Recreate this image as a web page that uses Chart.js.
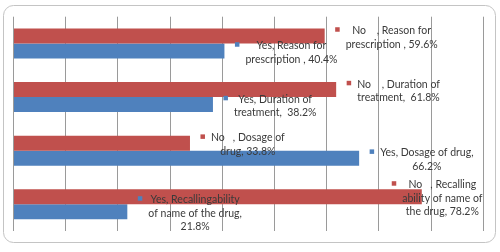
<!DOCTYPE html>
<html>
<head>
<meta charset="utf-8">
<script src="https://cdn.jsdelivr.net/npm/chart.js@4/dist/chart.umd.min.js"></script>
<style>
html,body{margin:0;padding:0;background:#fff;}
canvas{display:block;}
</style>
</head>
<body>
<canvas id="c" width="500" height="252"></canvas>
<script>
const categories = ['Reason for prescription', 'Duration of treatment', 'Dosage of drug', 'Recalling ability of name of the drug'];
const noValues = [59.6, 61.8, 33.8, 78.2];
const yesValues = [40.4, 38.2, 66.2, 21.8];
const noLabelLines = [
  ['No    , Reason for', 'prescription , 59.6%'],
  ['No    , Duration of', 'treatment,  61.8%'],
  ['No   , Dosage of', 'drug, 33.8%'],
  ['No   , Recalling', 'ability of name of', 'the drug, 78.2%']
];
const yesLabelLines = [
  ['Yes, Reason for', 'prescription , 40.4%'],
  ['Yes, Duration of', 'treatment,  38.2%'],
  ['Yes, Dosage of drug,', '66.2%'],
  ['Yes, Recallingability', 'of name of the drug,', '21.8%']
];
const xTicks = [0, 10, 20, 30, 40, 50, 60, 70, 80, 90];

const RED = '#C0504D';
const BLUE = '#4F81BD';

const frame = {
  id: 'frame',
  beforeDraw(chart) {
    const ctx = chart.ctx;
    ctx.save();
    ctx.fillStyle = '#ffffff';
    ctx.fillRect(0, 0, chart.width, chart.height);
    const x = 3.5, y = 5.5, w = 492, h = 237, r = 10;
    ctx.beginPath();
    ctx.moveTo(x + r, y);
    ctx.lineTo(x + w - r, y);
    ctx.arcTo(x + w, y, x + w, y + r, r);
    ctx.lineTo(x + w, y + h - r);
    ctx.arcTo(x + w, y + h, x + w - r, y + h, r);
    ctx.lineTo(x + r, y + h);
    ctx.arcTo(x, y + h, x, y + h - r, r);
    ctx.lineTo(x, y + r);
    ctx.arcTo(x, y, x + r, y, r);
    ctx.closePath();
    ctx.strokeStyle = '#c4c4c4';
    ctx.lineWidth = 1;
    ctx.stroke();
    ctx.restore();
  }
};

const barLabels = {
  id: 'barLabels',
  afterDatasetsDraw(chart) {
    const ctx = chart.ctx;
    const area = chart.chartArea;
    ctx.save();
    ctx.font = '10.5px Lato';
    ctx.textBaseline = 'middle';
    ctx.textAlign = 'center';
    ctx.fillStyle = '#3a3a3a';
    const lh = 13.5;
    chart.data.datasets.forEach((ds, di) => {
      const meta = chart.getDatasetMeta(di);
      meta.data.forEach((bar, i) => {
        const lines = ds.labelLines[i];
        let w = 0;
        lines.forEach(l => { w = Math.max(w, ctx.measureText(l).width); });
        let left = bar.x + 21;
        if (left + w > area.right - 1) left = area.right - 1 - w;
        const cx = left + w / 2;
        const cy = bar.y + 1.5;
        const top = cy - (lines.length * lh) / 2 + lh / 2;
        ctx.fillStyle = ds.backgroundColor;
        ctx.fillRect(left - 10.5, top - 3.5, 4.5, 4.5);
        ctx.fillStyle = '#3a3a3a';
        lines.forEach((l, k) => ctx.fillText(l, cx, top + k * lh));
      });
    });
    ctx.restore();
  }
};

new Chart(document.getElementById('c'), {
  type: 'bar',
  data: {
    labels: categories,
    datasets: [
      { label: 'No', data: noValues, backgroundColor: RED, labelLines: noLabelLines,
        categoryPercentage: 0.56, barPercentage: 1.0, borderWidth: 0 },
      { label: 'Yes', data: yesValues, backgroundColor: BLUE, labelLines: yesLabelLines,
        categoryPercentage: 0.56, barPercentage: 1.0, borderWidth: 0 }
    ]
  },
  options: {
    indexAxis: 'y',
    responsive: false,
    devicePixelRatio: 1,
    animation: false,
    layout: { padding: { left: 13.5, right: 16.6, top: 16.7, bottom: 21 } },
    plugins: { legend: { display: false }, tooltip: { enabled: false } },
    scales: {
      x: {
        min: xTicks[0], max: xTicks[xTicks.length - 1],
        afterBuildTicks(scale) { scale.ticks = xTicks.map(v => ({ value: v })); },
        ticks: { display: false },
        grid: { color: '#9a9a9a', lineWidth: 1, drawTicks: false },
        border: { display: false }
      },
      y: {
        display: false
      }
    }
  },
  plugins: [frame, barLabels]
});
</script>
</body>
</html>
